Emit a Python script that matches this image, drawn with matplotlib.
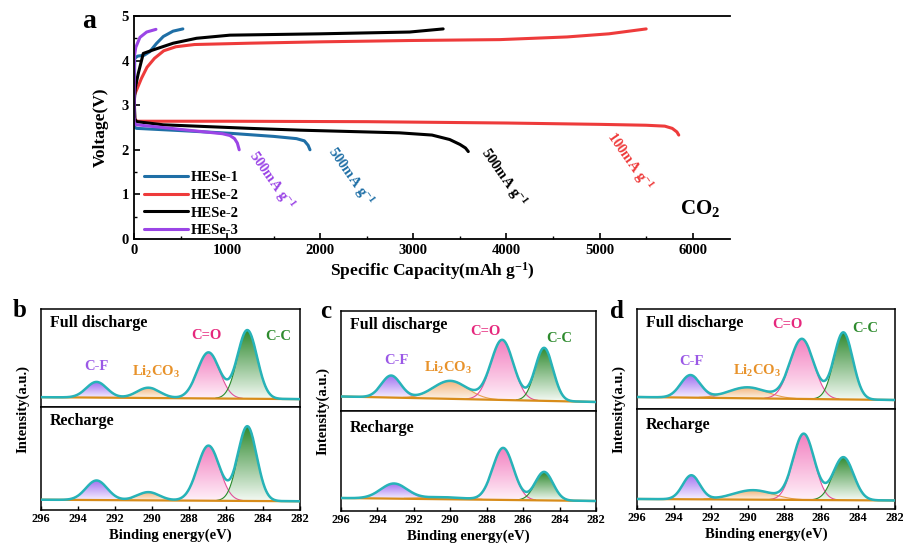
import numpy as np
import matplotlib
matplotlib.use('Agg')
import matplotlib.pyplot as plt
from matplotlib.colors import LinearSegmentedColormap

plt.rcParams['font.family'] = ['Liberation Serif', 'DejaVu Serif']
plt.rcParams['font.weight'] = 'bold'
plt.rcParams['axes.labelweight'] = 'bold'
plt.rcParams['mathtext.fontset'] = 'custom'
plt.rcParams['mathtext.rm'] = 'Liberation Serif:bold'
plt.rcParams['mathtext.it'] = 'Liberation Serif:bold'
plt.rcParams['mathtext.bf'] = 'Liberation Serif:bold'
plt.rcParams['xtick.direction'] = 'in'
plt.rcParams['ytick.direction'] = 'in'

# ---- panel a: charge / discharge curves (capacity mAh/g, voltage V)
he1_chg_cap = [0, 8, 40, 110, 170, 240, 315, 420, 525]
he1_chg_v = [2.6, 4.05, 4.1, 4.12, 4.2, 4.38, 4.54, 4.66, 4.71]
he1_dis_cap = [0, 5, 29, 500, 1030, 1500, 1745, 1830, 1870, 1890]
he1_dis_v = [2.6, 2.5, 2.48, 2.43, 2.37, 2.3, 2.25, 2.2, 2.1, 2.0]

he2r_chg_cap = [0, 30, 80, 140, 220, 320, 450, 650, 1245, 2000, 2960, 3930, 4650, 5100, 5500]
he2r_chg_v = [3.2, 3.35, 3.6, 3.85, 4.05, 4.22, 4.31, 4.36, 4.39, 4.42, 4.45, 4.47, 4.53, 4.6, 4.71]
he2r_dis_cap = [0, 8, 30, 1000, 2500, 4000, 5000, 5500, 5700, 5780, 5830, 5850]
he2r_dis_v = [3.2, 2.7, 2.64, 2.64, 2.63, 2.6, 2.57, 2.55, 2.53, 2.48, 2.4, 2.33]

he2k_chg_cap = [0, 15, 46, 100, 207, 422, 672, 1030, 2000, 2960, 3320]
he2k_chg_v = [3.0, 3.4, 3.71, 4.16, 4.24, 4.39, 4.5, 4.57, 4.6, 4.64, 4.71]
he2k_dis_cap = [0, 10, 30, 315, 1245, 1780, 2850, 3200, 3390, 3500, 3560, 3590]
he2k_dis_v = [3.3, 2.68, 2.63, 2.56, 2.48, 2.44, 2.38, 2.33, 2.23, 2.12, 2.04, 1.96]

he3_chg_cap = [0, 5, 20, 64, 136, 236]
he3_chg_v = [2.7, 4.1, 4.3, 4.52, 4.64, 4.7]
he3_dis_cap = [0, 5, 29, 672, 950, 1030, 1080, 1110, 1130]
he3_dis_v = [2.7, 2.6, 2.56, 2.42, 2.36, 2.32, 2.25, 2.15, 2.0]

legend_labels = ['HESe-1', 'HESe-2', 'HESe-2', 'HESe-3']
curve_colors = ['#1f6fa6', '#ee3b3b', '#000000', '#9b45e6']
rate_labels = ['500mA g$^{-1}$', '500mA g$^{-1}$', '500mA g$^{-1}$', '100mA g$^{-1}$']
rate_x = [1480, 2320, 3970, 5320]
rate_y = [1.3, 1.41, 1.37, 1.73]
rate_colors = ['#9b45e6', '#1f6fa6', '#000000', '#ee3b3b']

# ---- XPS C 1s fits: centres (eV), heights (axis units), FWHM (eV)
peak_names = ['C-F', 'Li$_2$CO$_3$', 'C=O', 'C-C']
b_full_c = [293.0, 290.2, 286.95, 284.85]
b_full_h = [0.16, 0.105, 0.47, 0.70]
b_full_w = [1.3, 1.45, 1.4, 1.25]
b_full_base = [0.10, 0.08]
b_rech_c = [293.0, 290.2, 286.95, 284.85]
b_rech_h = [0.19, 0.08, 0.535, 0.725]
b_rech_w = [1.35, 1.4, 1.4, 1.2]
b_rech_base = [0.10, 0.085]

c_full_c = [293.25, 290.0, 287.15, 284.85]
c_full_h = [0.22, 0.18, 0.60, 0.53]
c_full_w = [1.25, 2.2, 1.45, 1.15]
c_full_base = [0.145, 0.09]
c_rech_c = [293.1, 290.4, 287.1, 284.85]
c_rech_h = [0.15, 0.02, 0.52, 0.285]
c_rech_w = [1.7, 2.8, 1.35, 1.15]
c_rech_base = [0.13, 0.10]

d_full_c = [293.1, 290.0, 287.05, 284.8]
d_full_h = [0.225, 0.11, 0.60, 0.67]
d_full_w = [1.25, 2.4, 1.5, 1.2]
d_full_base = [0.12, 0.09]
d_rech_c = [293.05, 289.7, 286.95, 284.8]
d_rech_h = [0.24, 0.095, 0.66, 0.43]
d_rech_w = [1.1, 2.5, 1.35, 1.3]
d_rech_base = [0.10, 0.085]

fill_top = ['#a070f0', '#f2b47a', '#f27fc0', '#2f8a2f']
fill_bot = ['#f6f0ff', '#fdf5ec', '#fff2f9', '#f4faf4']
edge_col = ['#b48af0', '#e8a050', '#e0509a', '#2a8a2a']
label_col = ['#9b59e6', '#e8922a', '#e6287d', '#2e8b2e']

fig = plt.figure(figsize=(9.04, 5.49), dpi=100)

# ================= panel a
ax = fig.add_axes([0.1482, 0.5647, 0.6593, 0.4062])
caps = [(he1_chg_cap, he1_chg_v, he1_dis_cap, he1_dis_v),
        (he2r_chg_cap, he2r_chg_v, he2r_dis_cap, he2r_dis_v),
        (he2k_chg_cap, he2k_chg_v, he2k_dis_cap, he2k_dis_v),
        (he3_chg_cap, he3_chg_v, he3_dis_cap, he3_dis_v)]
handles = []
for (cc, cv, dc, dv), col in zip(caps, curve_colors):
    h, = ax.plot(cc, cv, color=col, lw=2.2, solid_capstyle='round')
    ax.plot(dc, dv, color=col, lw=2.2, solid_capstyle='round')
    handles.append(h)
ax.set_xlim(0, 6400)
ax.set_ylim(0, 5)
ax.set_xticks(range(0, 7000, 1000))
ax.set_xticks(range(500, 6500, 1000), minor=True)
ax.set_yticks(range(0, 6))
ax.set_yticks(np.arange(0.5, 5, 1.0), minor=True)
ax.spines['right'].set_visible(False)
ax.tick_params(labelsize=10.5, width=1.2, length=4)
ax.tick_params(which='minor', width=1.0, length=2.5)
for s in ax.spines.values():
    s.set_linewidth(1.3)
ax.set_xlabel('Specific Capacity(mAh g$^{-1}$)', fontsize=12.5, labelpad=2)
ax.set_ylabel('Voltage(V)', fontsize=12.5, labelpad=9)
leg = ax.legend(handles, legend_labels, loc='upper left', bbox_to_anchor=(0.0, 0.35),
                frameon=False, fontsize=10.5, handlelength=3.0, handletextpad=0.2,
                labelspacing=0.3, borderaxespad=0.3)
for lbl, x, y, col in zip(rate_labels, rate_x, rate_y, rate_colors):
    ax.text(x, y, lbl, color=col, fontsize=10.5, rotation=-55, rotation_mode='anchor',
            ha='center', va='center')
ax.text(6080, 0.68, 'CO$_2$', fontsize=15, ha='center', va='center')
fig.text(0.099, 0.96, 'a', fontsize=20, ha='center', va='center')

# ================= XPS panels
xg = np.linspace(282, 296, 700)


def grad_fill(a, x, y0, y1, c_top, c_bot):
    poly = a.fill_between(x, y0, y1, color='none', lw=0)
    path = poly.get_paths()[0]
    cmap = LinearSegmentedColormap.from_list('g', [c_bot, c_top])
    grad = np.linspace(0, 1, 256).reshape(-1, 1)
    im = a.imshow(grad, cmap=cmap, aspect='auto', origin='lower',
                  extent=[x.min(), x.max(), y0.min(), y1.max()], zorder=1)
    im.set_clip_path(path, transform=a.transData)


def spectrum(a, cen, hgt, fw, base):
    bl = base[1] + (base[0] - base[1]) * (xg - 282) / 14.0
    total = bl.copy()
    for i in range(4):
        sig = fw[i] / 2.3548
        comp = hgt[i] * np.exp(-(xg - cen[i]) ** 2 / (2 * sig ** 2))
        total += comp
        m = comp > 0.004
        grad_fill(a, xg[m], bl[m], bl[m] + comp[m], fill_top[i], fill_bot[i])
        a.plot(xg[m], bl[m] + comp[m], color=edge_col[i], lw=0.8, zorder=2)
    a.plot(xg, bl, color='#d88c1a', lw=1.6, zorder=4)
    a.plot(xg, total, color='#27b3b8', lw=1.8, zorder=5)
    a.set_xlim(296, 282)
    a.set_ylim(0, 1)
    a.set_yticks([])
    for s in a.spines.values():
        s.set_linewidth(1.1)


panels = [
    ('b', [0.0454, 0.2587, 0.2865, 0.1785], [0.0454, 0.0710, 0.2865, 0.1876],
     (b_full_c, b_full_h, b_full_w, b_full_base), (b_rech_c, b_rech_h, b_rech_w, b_rech_base),
     [(293.0, 0.41), (289.8, 0.36), (287.05, 0.73), (283.17, 0.72)], 0.86, 0.86, 0.022, 0.435),
    ('c', [0.3772, 0.2514, 0.2821, 0.1821], [0.3772, 0.0692, 0.2821, 0.1821],
     (c_full_c, c_full_h, c_full_w, c_full_base), (c_rech_c, c_rech_h, c_rech_w, c_rech_base),
     [(292.98, 0.50), (290.1, 0.43), (288.05, 0.80), (284.0, 0.73)], 0.86, 0.83, 0.360, 0.432),
    ('d', [0.7046, 0.2550, 0.2854, 0.1821], [0.7046, 0.0729, 0.2854, 0.1821],
     (d_full_c, d_full_h, d_full_w, d_full_base), (d_rech_c, d_rech_h, d_rech_w, d_rech_base),
     [(293.03, 0.48), (289.5, 0.38), (287.85, 0.85), (283.63, 0.81)], 0.86, 0.84, 0.683, 0.432),
]

for letter, r_top, r_bot, full, rech, lab_pos, y_full, y_rech, lx, ly in panels:
    at = fig.add_axes(r_top)
    ab = fig.add_axes(r_bot)
    spectrum(at, *full)
    spectrum(ab, *rech)
    at.set_xticks([])
    ab.set_xticks(range(296, 281, -2))
    ab.tick_params(labelsize=9, width=1.0, length=3, pad=2.5)
    ab.set_xlabel('Binding energy(eV)', fontsize=10.5, labelpad=2)
    at.text(0.035, y_full, 'Full discharge', transform=at.transAxes, fontsize=11.5,
            ha='left', va='center')
    ab.text(0.035, y_rech, 'Recharge', transform=ab.transAxes, fontsize=11.5,
            ha='left', va='center')
    for name, (px, py), col in zip(peak_names, lab_pos, label_col):
        at.text(px, py, name, color=col, fontsize=10.5, ha='center', va='center', zorder=6)
    x0 = r_top[0]
    fig.text(lx, ly, letter, fontsize=18, ha='center', va='center')
    fig.text(x0 - 0.02, r_bot[1] + (r_top[1] + r_top[3] - r_bot[1]) / 2, 'Intensity(a.u.)',
             fontsize=10.5, rotation=90, ha='center', va='center')

fig.savefig('out.png', dpi=100)
